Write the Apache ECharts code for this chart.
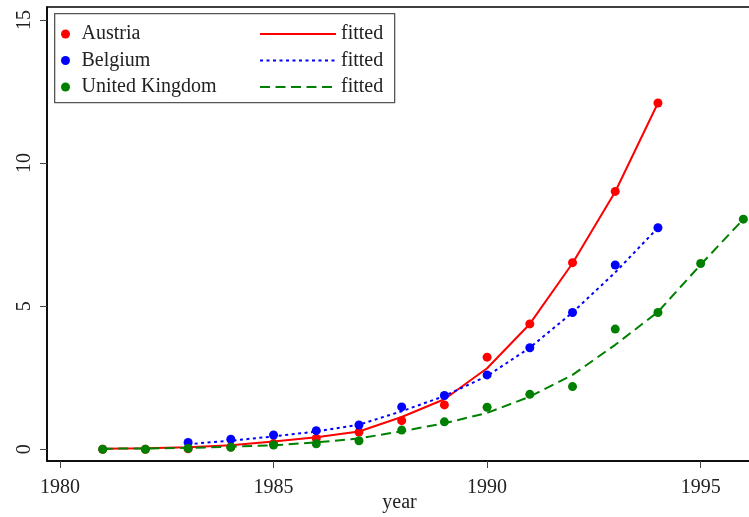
<!DOCTYPE html>
<html>
<head>
<meta charset="utf-8">
<script src="https://cdn.jsdelivr.net/npm/echarts@6/dist/echarts.min.js"></script>
<style>html,body{margin:0;padding:0;background:#fff}#c{width:749px;height:517px}</style>
</head>
<body>
<div id="c"></div>
<script>
const years = [1981,1982,1983,1984,1985,1986,1987,1988,1989,1990,1991,1992,1993,1994,1995,1996];
const austriaYears = [1981,1982,1983,1984,1985,1986,1987,1988,1989,1990,1991,1992,1993,1994];
const austria = [0.0,0.0,0.02,0.08,0.2,0.38,0.6,1.0,1.55,3.22,4.38,6.52,9.01,12.1];
const austriaFit = [0.02,0.04,0.07,0.14,0.27,0.42,0.62,1.13,1.75,2.83,4.38,6.5,9.0,12.1];
const belgiumYears = [1983,1984,1985,1986,1987,1988,1989,1990,1991,1992,1993,1994];
const belgium = [0.24,0.35,0.5,0.65,0.85,1.48,1.88,2.6,3.55,4.78,6.44,7.74];
const belgiumFit = [0.18,0.3,0.45,0.62,0.86,1.33,1.86,2.56,3.55,4.78,6.18,7.74];
const ukYears = years;
const uk = [0.0,0.0,0.03,0.07,0.15,0.19,0.3,0.67,0.96,1.47,1.92,2.19,4.2,4.78,6.49,8.04];
const ukFit = [0.02,0.03,0.05,0.09,0.14,0.24,0.38,0.63,0.91,1.27,1.84,2.6,3.65,4.8,6.45,8.04];
const xTicks = [1980,1985,1990,1995];
const yTicks = [0,5,10,15];

const pair = (xs, ys) => xs.map((x,i)=>[x, ys[i]]);
const FONT = 'Liberation Serif';
const TXT = '#222';

const chart = echarts.init(document.getElementById('c'));
chart.setOption({
  animation: false,
  backgroundColor: '#fff',
  grid: {left: 47, right: -3, top: 7, bottom: 56, outerBoundsMode: 'none', containLabel: false,
         show: true, borderColor: '#000', borderWidth: 1.5, backgroundColor: 'transparent'},
  xAxis: {
    type: 'value', min: 1979.696, max: 1996.202,
    name: 'year', nameLocation: 'middle', nameGap: 32, nameMoveOverlap: false,
    nameTextStyle: {fontFamily: FONT, fontSize: 20, color: TXT},
    axisLine: {show: true, onZero: false, lineStyle: {color: '#000', width: 1.5}},
    axisTick: {show: true, length: 7, customValues: xTicks, lineStyle: {color: '#444', width: 1}},
    axisLabel: {customValues: xTicks, margin: 17, fontFamily: FONT, fontSize: 20, color: TXT, formatter: v => String(v)},
    splitLine: {show: false}
  },
  yAxis: {
    type: 'value', min: -0.409, max: 15.454,
    axisLine: {show: true, onZero: false, lineStyle: {color: '#000', width: 1.5}},
    axisTick: {show: true, length: 7, customValues: yTicks, lineStyle: {color: '#444', width: 1}},
    axisLabel: {customValues: yTicks, rotate: 90, margin: 12, fontFamily: FONT, fontSize: 20, color: TXT, formatter: v => String(v)},
    splitLine: {show: false}
  },
  graphic: [{
    type: 'rect', left: 54, top: 13, z: 90,
    shape: {width: 340, height: 89},
    style: {fill: '#fff', stroke: '#555', lineWidth: 1.3}
  }],
  legend: [{
    orient: 'vertical', left: 56, top: 19, z: 100,
    itemWidth: 22, itemHeight: 9, itemGap: 6.5, icon: 'circle',
    data: ['Austria','Belgium','United Kingdom'],
    textStyle: {fontFamily: FONT, fontSize: 20, color: TXT, lineHeight: 20},
    selectedMode: false
  }, {
    orient: 'vertical', left: 254, top: 19, z: 100,
    itemWidth: 76, itemHeight: 9, itemGap: 6.5,
    data: ['fA','fB','fU'],
    formatter: () => 'fitted',
    itemStyle: {opacity: 0},
    textStyle: {fontFamily: FONT, fontSize: 20, color: TXT, lineHeight: 20},
    selectedMode: false
  }],
  series: [
    {name: 'Austria', type: 'scatter', data: pair(austriaYears, austria), symbol: 'circle', symbolSize: 9, itemStyle: {color: '#ff0000', opacity: 1}, z: 2},
    {name: 'fA', type: 'line', data: pair(austriaYears, austriaFit), showSymbol: false, symbol: 'none', lineStyle: {color: '#ff0000', width: 2, type: 'solid'}, itemStyle: {color: '#ff0000'}, z: 3},
    {name: 'Belgium', type: 'scatter', data: pair(belgiumYears, belgium), symbol: 'circle', symbolSize: 9, itemStyle: {color: '#0000ff', opacity: 1}, z: 4},
    {name: 'fB', type: 'line', data: pair(belgiumYears, belgiumFit), showSymbol: false, symbol: 'none', lineStyle: {color: '#0000ff', width: 2, type: [3,3.5]}, itemStyle: {color: '#0000ff'}, z: 5},
    {name: 'United Kingdom', type: 'scatter', data: pair(ukYears, uk), symbol: 'circle', symbolSize: 9, itemStyle: {color: '#008000', opacity: 1}, z: 6},
    {name: 'fU', type: 'line', data: pair(ukYears, ukFit), showSymbol: false, symbol: 'none', lineStyle: {color: '#008000', width: 2, type: [10,5.5]}, itemStyle: {color: '#008000'}, z: 7}
  ]
});
</script>
</body>
</html>
